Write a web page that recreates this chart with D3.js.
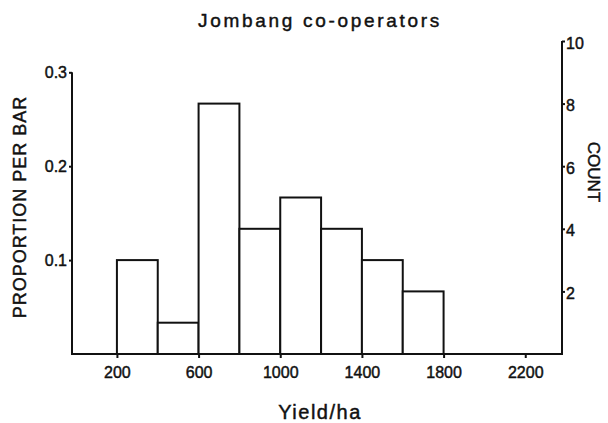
<!DOCTYPE html>
<html>
<head>
<meta charset="utf-8">
<script src="https://cdn.jsdelivr.net/npm/d3@7"></script>
<style>
  body { margin: 0; background: #fff; }
  svg text { font-family: "Liberation Sans", Arial, sans-serif; fill: #111; stroke: #111; stroke-width: 0.45px; }
</style>
</head>
<body>
<svg id="chart" width="608" height="423"></svg>
<script>
// histogram bins (yield/ha) and counts per bar
var binStarts = [200, 400, 600, 800, 1000, 1200, 1400, 1600];
var binWidth = 200;
var counts = [3, 1, 8, 4, 5, 4, 3, 2];
var xTicks = [200, 600, 1000, 1400, 1800, 2200];
var countTicks = [2, 4, 6, 8, 10];
var propTicks = [0.1, 0.2, 0.3];

var total = d3.sum(counts);
var svg = d3.select("#chart");

var padLeft = 72, padRight = 562, baseY = 354, topY = 41;

var x = d3.scaleLinear().domain([-20, 2380]).range([padLeft, padRight]);
var yCount = d3.scaleLinear().domain([0, 10]).range([baseY, topY]);
var yProp = d3.scaleLinear().domain([0, 10 / total]).range([baseY, topY]);

var bars = binStarts.map(function(s, i) { return {x0: s, x1: s + binWidth, n: counts[i]}; });

// bars
svg.append("g").selectAll("rect")
    .data(bars)
    .enter()
    .append("rect")
    .attr("x", d => x(d.x0))
    .attr("y", d => yCount(d.n))
    .attr("width", d => x(d.x1) - x(d.x0))
    .attr("height", d => baseY - yCount(d.n))
    .attr("fill", "white")
    .attr("stroke", "#111")
    .attr("stroke-width", 2);

// x axis
var xAxis = d3.axisBottom(x).tickValues(xTicks).tickSize(4).tickSizeOuter(0).tickFormat(d3.format("d"));
var gx = svg.append("g")
    .attr("transform", "translate(0," + baseY + ")")
    .call(xAxis);
gx.select(".domain").remove();
gx.selectAll(".tick line").attr("stroke", "#111").attr("stroke-width", 2);
gx.selectAll(".tick text")
    .attr("y", 13)
    .attr("font-size", 16)
    .attr("fill", "#111");
svg.append("line")
    .attr("x1", padLeft).attr("x2", padRight)
    .attr("y1", baseY).attr("y2", baseY)
    .attr("stroke", "#111").attr("stroke-width", 2);

// left axis (proportion)
var yAxisL = d3.axisLeft(yProp).tickValues(propTicks).tickSize(3).tickFormat(d3.format(".1f"));
var gl = svg.append("g")
    .attr("transform", "translate(" + padLeft + ",0)")
    .call(yAxisL);
gl.select(".domain").remove();
gl.selectAll(".tick line").attr("stroke", "#111").attr("stroke-width", 2);
gl.selectAll(".tick text").attr("font-size", 16).attr("x", -5).attr("fill", "#111");
svg.append("line")
    .attr("x1", padLeft).attr("x2", padLeft)
    .attr("y1", yProp(0.3)).attr("y2", baseY + 1)
    .attr("stroke", "#111").attr("stroke-width", 2);

// right axis (count)
var yAxisR = d3.axisRight(yCount).tickValues(countTicks).tickSize(3);
var gr = svg.append("g")
    .attr("transform", "translate(" + padRight + ",0)")
    .call(yAxisR);
gr.select(".domain").remove();
gr.selectAll(".tick line").attr("stroke", "#111").attr("stroke-width", 2);
gr.selectAll(".tick text").attr("font-size", 16).attr("x", 4).attr("y", 2).attr("fill", "#111");
svg.append("line")
    .attr("x1", padRight).attr("x2", padRight)
    .attr("y1", yCount(10)).attr("y2", baseY + 1)
    .attr("stroke", "#111").attr("stroke-width", 2);

// title
svg.append("text")
    .attr("x", 320).attr("y", 27)
    .attr("text-anchor", "middle")
    .attr("font-size", 19)
    .attr("letter-spacing", 2.7)
    .text("Jombang co-operators");

// axis titles
svg.append("text")
    .attr("x", 320).attr("y", 419)
    .attr("text-anchor", "middle")
    .attr("font-size", 20)
    .attr("letter-spacing", 1.5)
    .text("Yield/ha");

svg.append("text")
    .attr("transform", "translate(26,207) rotate(-90)")
    .attr("text-anchor", "middle")
    .attr("font-size", 18)
    .attr("letter-spacing", 1)
    .text("PROPORTION PER BAR");

svg.append("text")
    .attr("transform", "translate(588,172) rotate(90)")
    .attr("text-anchor", "middle")
    .attr("font-size", 17)
    .text("COUNT");
</script>
</body>
</html>
